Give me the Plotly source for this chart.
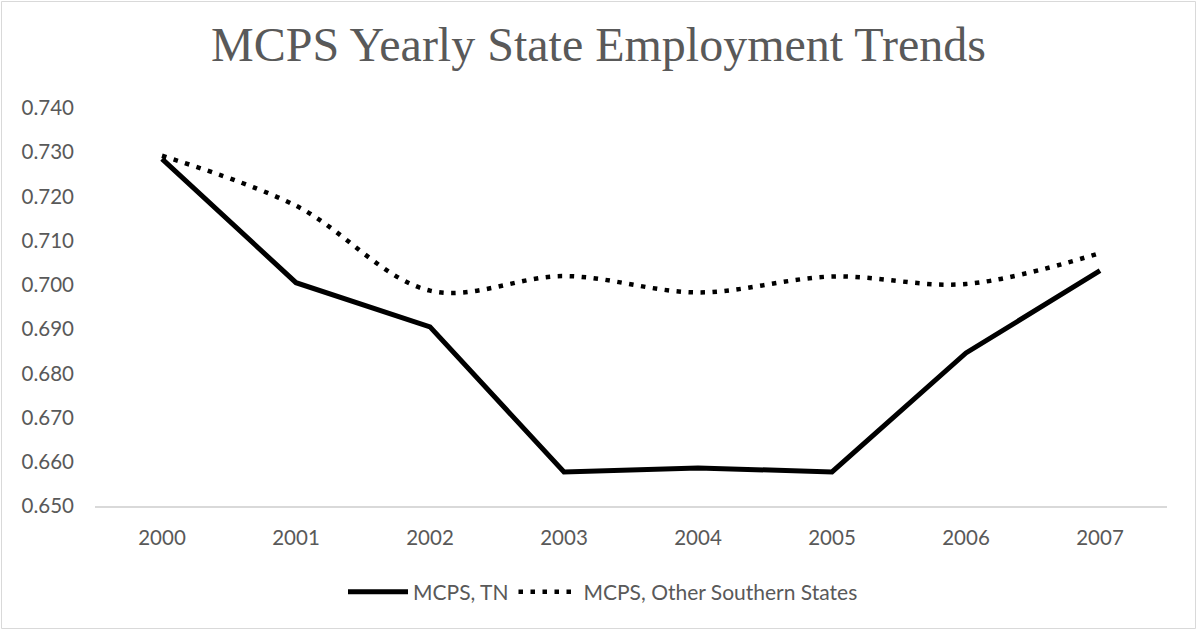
import plotly.graph_objects as go

years = ["2000", "2001", "2002", "2003", "2004", "2005", "2006", "2007"]
tn = [0.7285, 0.7005, 0.6905, 0.6577, 0.6586, 0.6577, 0.6846, 0.7032]
other = [0.7292, 0.7179, 0.6987, 0.7020, 0.6983, 0.7019, 0.7002, 0.7072]
y_ticks = [0.650, 0.660, 0.670, 0.680, 0.690, 0.700, 0.710, 0.720, 0.730, 0.740]

W, H = 1197, 630
L, R, T, B = 95, 30, 108, 124
txt = "#595959"
font_fam = "Lato, 'Open Sans', sans-serif"

fig = go.Figure()
fig.add_trace(go.Scatter(x=years, y=tn, mode="lines", name="MCPS, TN",
                         line=dict(color="black", width=5)))
fig.add_trace(go.Scatter(x=years, y=other, mode="lines", name="MCPS, Other Southern States",
                         line=dict(color="black", width=4.5, dash="4.5px,7.5px",
                                   shape="spline", smoothing=1)))

pw, ph = W - L - R, H - T - B
fig.add_shape(type="rect", xref="paper", yref="paper",
              x0=(1.5 - L) / pw, x1=(1195.5 - L) / pw,
              y0=(H - B - 628.5) / ph, y1=(H - B - 1.5) / ph,
              line=dict(color="#d9d9d9", width=1), fillcolor="rgba(0,0,0,0)", layer="below")

fig.update_layout(
    width=W, height=H,
    margin=dict(l=L, r=R, t=T, b=B),
    paper_bgcolor="white", plot_bgcolor="white",
    title=dict(text="MCPS Yearly State Employment Trends", x=0.5, xref="container",
               xanchor="center", y=1 - 44 / H, yanchor="middle",
               font=dict(family="'Liberation Serif', 'Times New Roman', serif", size=48, color=txt)),
    font=dict(family=font_fam, size=20.5, color=txt),
    showlegend=True,
    legend=dict(orientation="h", x=(603 - L) / pw, xanchor="center", y=-(592 - (H - B)) / ph,
                yanchor="middle", font=dict(size=21, color=txt), itemwidth=60,
                bgcolor="rgba(0,0,0,0)"),
    xaxis=dict(type="category", range=[-0.5, 7.5], showgrid=False, zeroline=False,
               showline=True, linecolor="#d9d9d9", linewidth=1.5, ticks="",
               tickfont=dict(size=20.5, color=txt), ticklabelstandoff=13),
    yaxis=dict(range=[0.650, 0.740], tickvals=y_ticks,
               ticktext=[f"{v:.3f}" for v in y_ticks], showgrid=False, zeroline=False,
               showline=False, ticks="", tickfont=dict(size=20.5, color=txt),
               ticklabelstandoff=20),
)

fig.write_html("out.html")
